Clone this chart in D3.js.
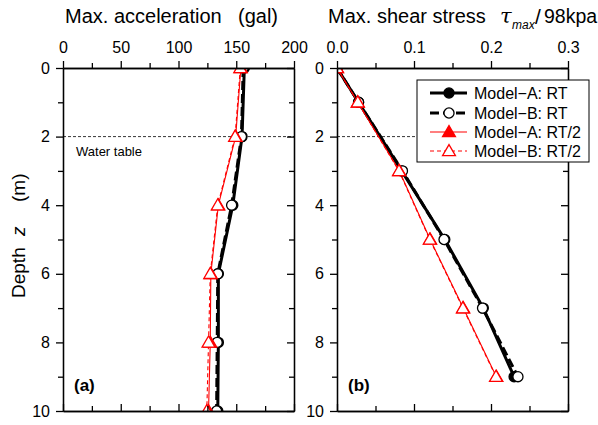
<!DOCTYPE html>
<html>
<head>
<meta charset="utf-8">
<script src="https://cdn.jsdelivr.net/npm/d3@7"></script>
<style>
  body { margin: 0; background: #fff; }
  svg { display: block; font-family: "Liberation Sans", Arial, "Noto Sans CJK JP", sans-serif; }
</style>
</head>
<body>
<svg id="chart" width="598" height="425"></svg>
<script>
// Depths (m) at which each quantity is recorded
const accDepths = [0, 2, 4, 6, 8, 10];
const tauDepths = [0, 1, 3, 5, 7, 9];

// Max. acceleration (gal)
const accModelA_RT  = [157, 155, 147, 134.5, 134.5, 134];
const accModelB_RT  = [156, 154.5, 146, 134, 133.5, 133];
const accModelA_RT2 = [154, 149.5, 134.5, 128, 127.5, 126];
const accModelB_RT2 = [153.5, 149, 134, 127.5, 126, 124.5];

// Max. shear stress tau_max / 98 kPa
const tauModelA_RT  = [0, 0.028, 0.084, 0.140, 0.190, 0.230];
const tauModelB_RT  = [0, 0.028, 0.085, 0.139, 0.189, 0.235];
const tauModelA_RT2 = [0, 0.027, 0.081, 0.121, 0.164, 0.207];
const tauModelB_RT2 = [0, 0.027, 0.0805, 0.1205, 0.1635, 0.2065];

// Tick values
const accTicks = [0, 50, 100, 150, 200];
const accMinor = [25, 75, 125, 175];
const tauTicks = [0, 0.1, 0.2, 0.3];
const tauMinor = [0.05, 0.15, 0.25];
const depthTicks = [0, 2, 4, 6, 8, 10];
const depthMinor = [1, 3, 5, 7, 9];

const seriesNames = ["Model\u2212A: RT", "Model\u2212B: RT", "Model\u2212A: RT/2", "Model\u2212B: RT/2"];
const waterTable = 2;

const svg = d3.select("#chart");
const plotTop = 68, plotBottom = 411;
const y = d3.scaleLinear().domain([0, 10]).range([plotTop, plotBottom]);

const styles = [
  { color: "#000", width: 3, dash: null, marker: "circle", fill: "#000" },
  { color: "#000", width: 3, dash: "9,4", marker: "circle", fill: "#fff" },
  { color: "#f00", width: 1.1, dash: null, marker: "triangle", fill: "#f00" },
  { color: "#f00", width: 1.1, dash: "4,3", marker: "triangle", fill: "#fff" }
];

function markerPath(st) {
  return d3.symbol()
    .type(st.marker === "circle" ? d3.symbolCircle : d3.symbolTriangle)
    .size(st.marker === "circle" ? 80 : 72)();
}

function drawPanel(id, x, ticks, minor, fmt, depths, series, label) {
  const [x0, x1] = x.range();
  const g = svg.append("g");

  g.append("clipPath").attr("id", "clip-" + id)
    .append("rect").attr("x", x0).attr("y", plotTop)
    .attr("width", x1 - x0).attr("height", plotBottom - plotTop);

  // water table level
  g.append("line")
    .attr("x1", x0).attr("x2", x1)
    .attr("y1", y(waterTable)).attr("y2", y(waterTable))
    .attr("stroke", "#000").attr("stroke-width", 0.8).attr("stroke-dasharray", "3,2");

  const plot = g.append("g").attr("clip-path", `url(#clip-${id})`);
  const line = d3.line().x(d => x(d[0])).y(d => y(d[1]));

  series.forEach((vals, i) => {
    const st = styles[i];
    const pts = vals.map((v, k) => [v, depths[k]]);
    plot.append("path").datum(pts)
      .attr("d", line).attr("fill", "none")
      .attr("stroke", st.color).attr("stroke-width", st.width)
      .attr("stroke-dasharray", st.dash);
  });
  // markers drawn after all lines
  series.forEach((vals, i) => {
    const st = styles[i];
    const pts = vals.map((v, k) => [v, depths[k]]);
    plot.selectAll(null).data(pts).enter().append("path")
      .attr("d", markerPath(st))
      .attr("transform", d => `translate(${x(d[0])},${y(d[1]) + (st.marker === "triangle" ? 1 : 0)})`)
      .attr("fill", st.fill).attr("stroke", st.color).attr("stroke-width", 1.3);
  });

  const axStyle = sel => {
    sel.selectAll("path.domain").attr("stroke", "#000").attr("stroke-width", 1.3);
    sel.selectAll(".tick line").attr("stroke", "#000").attr("stroke-width", 1.3);
    sel.selectAll("text").attr("font-size", 16).attr("fill", "#000")
      .style("font-family", "'Liberation Sans', Arial, sans-serif");
  };

  // top axis (outward ticks)
  g.append("g").attr("transform", `translate(0,${plotTop})`)
    .call(d3.axisTop(x).tickValues(ticks).tickSize(7).tickSizeOuter(0).tickPadding(8).tickFormat(fmt))
    .call(axStyle);
  g.append("g").attr("transform", `translate(0,${plotTop})`)
    .call(d3.axisTop(x).tickValues(minor).tickSize(5).tickSizeOuter(0).tickFormat(""))
    .call(axStyle);
  // bottom axis (inward ticks)
  g.append("g").attr("transform", `translate(0,${plotBottom})`)
    .call(d3.axisBottom(x).tickValues(ticks).tickSize(-7).tickSizeOuter(0).tickFormat(""))
    .call(axStyle);
  g.append("g").attr("transform", `translate(0,${plotBottom})`)
    .call(d3.axisBottom(x).tickValues(minor).tickSize(-5).tickSizeOuter(0).tickFormat(""))
    .call(axStyle);
  // left axis (outward ticks)
  g.append("g").attr("transform", `translate(${x0},0)`)
    .call(d3.axisLeft(y).tickValues(depthTicks).tickSize(7).tickSizeOuter(0).tickPadding(6).tickFormat(d3.format("d")))
    .call(axStyle);
  g.append("g").attr("transform", `translate(${x0},0)`)
    .call(d3.axisLeft(y).tickValues(depthMinor).tickSize(5).tickSizeOuter(0).tickFormat(""))
    .call(axStyle);
  // right axis (inward ticks)
  g.append("g").attr("transform", `translate(${x1},0)`)
    .call(d3.axisRight(y).tickValues(depthTicks).tickSize(-7).tickSizeOuter(0).tickFormat(""))
    .call(axStyle);
  g.append("g").attr("transform", `translate(${x1},0)`)
    .call(d3.axisRight(y).tickValues(depthMinor).tickSize(-5).tickSizeOuter(0).tickFormat(""))
    .call(axStyle);

  g.append("text").attr("x", x0 + 11).attr("y", 391)
    .attr("font-size", 17).attr("font-weight", "bold").text(label);
  return g;
}

const xAcc = d3.scaleLinear().domain([0, 200]).range([63, 294]);
const xTau = d3.scaleLinear().domain([0, 0.3]).range([337, 568]);

drawPanel("a", xAcc, accTicks, accMinor, d3.format("d"), accDepths,
  [accModelA_RT, accModelB_RT, accModelA_RT2, accModelB_RT2], "(a)");
drawPanel("b", xTau, tauTicks, tauMinor, d3.format(".1f"), tauDepths,
  [tauModelA_RT, tauModelB_RT, tauModelA_RT2, tauModelB_RT2], "(b)");

// water table label
svg.append("text").attr("x", 76).attr("y", 156).attr("font-size", 13).text("Water table");

// panel titles
svg.append("text").attr("x", 65).attr("y", 23).attr("font-size", 20).text("Max. acceleration");
svg.append("text").attr("x", 238).attr("y", 23).attr("font-size", 20).text("(gal)");

svg.append("text").attr("x", 328).attr("y", 23).attr("font-size", 20).text("Max. shear stress");
svg.append("text").attr("x", 500).attr("y", 23).attr("font-size", 21)
  .attr("font-style", "italic").attr("font-family", "'DejaVu Serif', serif").text("\u03c4");
svg.append("text").attr("x", 512).attr("y", 29).attr("font-size", 12)
  .attr("font-style", "italic").text("max");
svg.append("text").attr("x", 535).attr("y", 24).attr("font-size", 21).text("/");
svg.append("text").attr("x", 544).attr("y", 23).attr("font-size", 19.5).text("98kpa");

// depth axis title
const depthTitle = [
  { text: "Depth", y: 298, italic: false },
  { text: "z", y: 236, italic: true },
  { text: "(m)", y: 202, italic: false }
];
depthTitle.forEach(p => {
  svg.append("text").attr("transform", `translate(25,${p.y}) rotate(-90)`)
    .attr("font-size", 19).attr("font-style", p.italic ? "italic" : null).text(p.text);
});

// legend
const lg = svg.append("g");
lg.append("rect").attr("x", 417).attr("y", 80).attr("width", 172).attr("height", 82)
  .attr("fill", "#fff").attr("stroke", "#000").attr("stroke-width", 1);
const legY = [93, 113, 132, 151];
seriesNames.forEach((name, i) => {
  const st = styles[i];
  lg.append("line").attr("x1", 430).attr("x2", 467).attr("y1", legY[i]).attr("y2", legY[i])
    .attr("stroke", st.color).attr("stroke-width", st.width).attr("stroke-dasharray", st.dash);
  lg.append("path").attr("d", markerPath(st))
    .attr("transform", `translate(449,${legY[i] + (st.marker === "triangle" ? 1 : 0)})`)
    .attr("fill", st.fill).attr("stroke", st.color).attr("stroke-width", 1.3);
  lg.append("text").attr("x", 474).attr("y", legY[i] + 6).attr("font-size", 16).text(name);
});
</script>
</body>
</html>
